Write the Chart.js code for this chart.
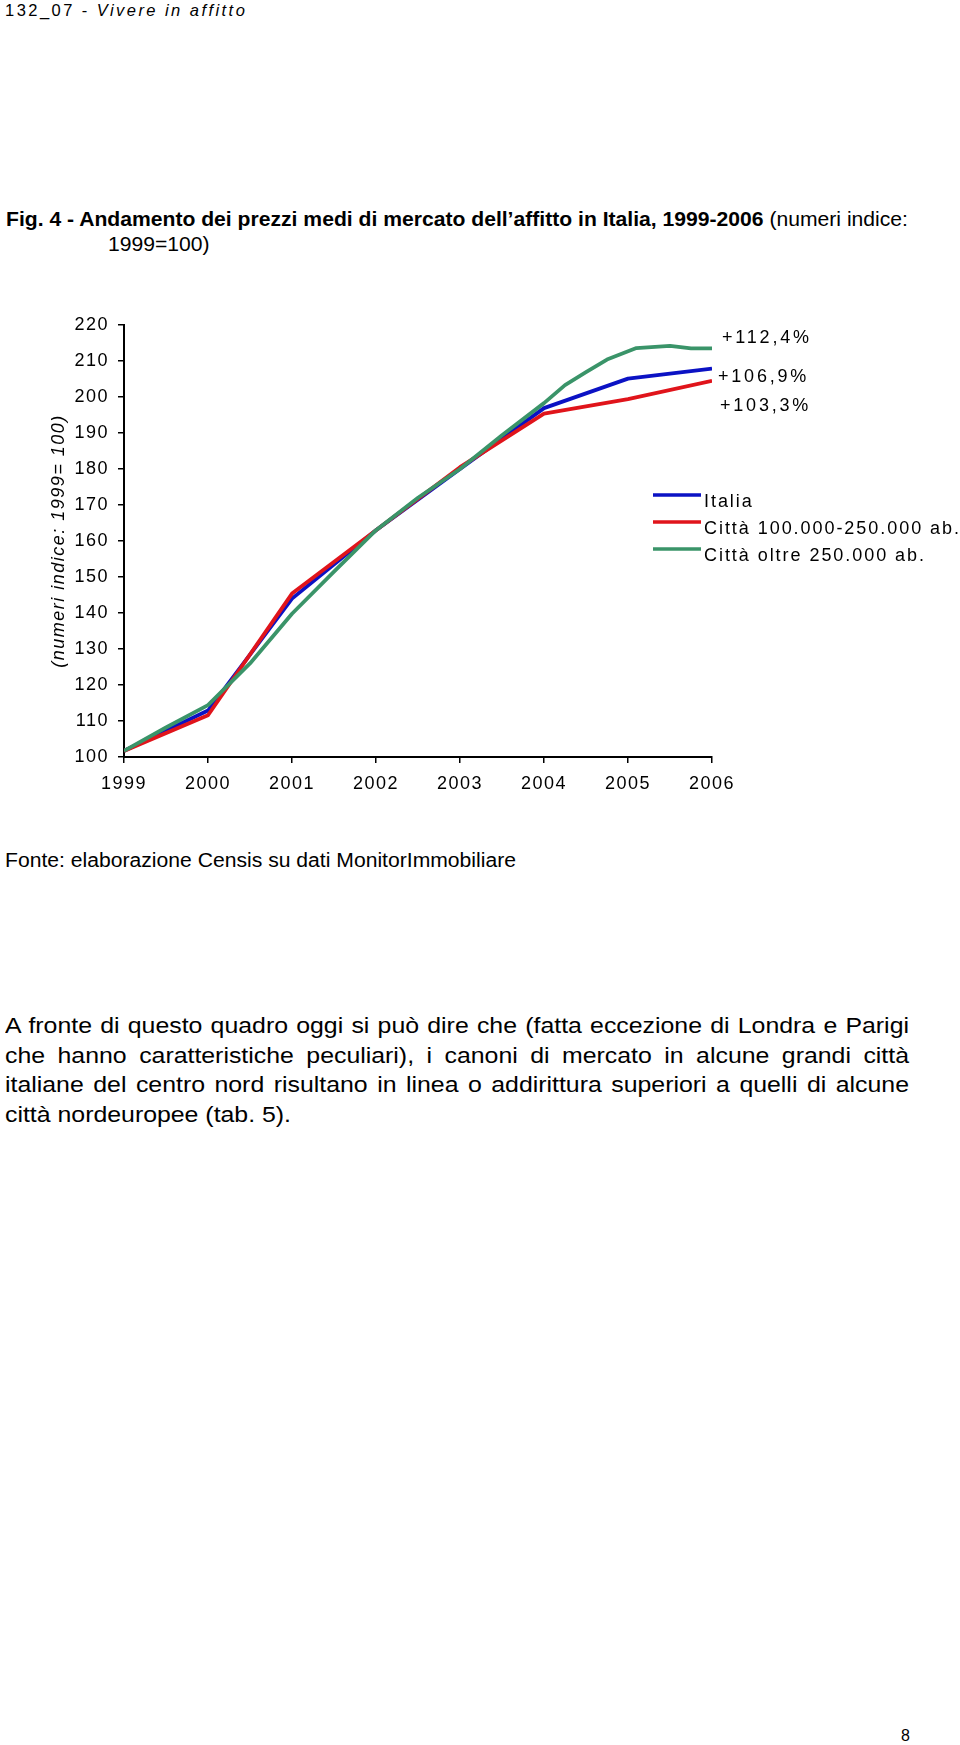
<!DOCTYPE html>
<html>
<head>
<meta charset="utf-8">
<script src="https://cdn.jsdelivr.net/npm/chart.js@4.4.1/dist/chart.umd.min.js"></script>
<style>
  html, body { margin: 0; padding: 0; background: #fff; }
  body { width: 960px; height: 1745px; position: relative; overflow: hidden; color: #000; }
  .abs { position: absolute; white-space: nowrap; transform-origin: 0 0; }
  .fit { display: inline-block; }
  #hdr { left: 5px; top: 0px; font: 16.5px/20px "Liberation Sans", Arial, sans-serif; letter-spacing: 2.45px; }
  .narrow { font-family: "Liberation Sans", Arial, sans-serif; }
  #t1 { left: 6px; top: 207px; font-size: 21px; line-height: 24.5px; }
  #t2 { left: 108px; top: 231.5px; font-size: 21px; line-height: 24.5px; }
  #fonte { left: 5px; top: 848px; font-size: 20px; line-height: 24px; }
  #para { left: 5px; top: 1011px; font-size: 22px; line-height: 29.7px; white-space: normal; }
  #para .ln { text-align: justify; text-align-last: justify; white-space: nowrap; }
  #para .ln.last { text-align-last: left; }
  #pnum { left: 901px; top: 1727px; font: 16px/18px "Liberation Sans", Arial, sans-serif; }
  #c { position: absolute; left: 0; top: 280px; }
</style>
</head>
<body>
<div id="hdr" class="abs">132_07 - <i>Vivere in affitto</i></div>
<div id="t1" class="abs narrow fit"><b>Fig. 4 - Andamento dei prezzi medi di mercato dell’affitto in Italia, 1999-2006</b> (numeri indice:</div>
<div id="t2" class="abs narrow fit">1999=100)</div>
<canvas id="c" width="960" height="560"></canvas>
<div id="fonte" class="abs narrow fit">Fonte: elaborazione Censis su dati MonitorImmobiliare</div>
<div id="para" class="abs narrow">
  <div class="ln">A fronte di questo quadro oggi si può dire che (fatta eccezione di Londra e Parigi</div>
  <div class="ln">che hanno caratteristiche peculiari), i canoni di mercato in alcune grandi città</div>
  <div class="ln">italiane del centro nord risultano in linea o addirittura superiori a quelli di alcune</div>
  <div class="ln last"><span id="lastspan">città nordeuropee (tab. 5).</span></div>
</div>
<div id="pnum" class="abs">8</div>
<script>
// ---- data ----
const seriesNames = ["Italia", "Città 100.000-250.000 ab.", "Città oltre 250.000 ab."];
const yearsAnnual = [1999, 2000, 2001, 2002, 2003, 2004, 2005, 2006];
const italia = [101.7, 112.9, 144.0, 163.0, 180.0, 196.9, 205.1, 207.9];
const citta100_250 = [101.7, 111.6, 145.4, 163.0, 180.5, 195.4, 199.4, 204.5];
const yearsGreen = [1999, 1999.5, 2000, 2000.5, 2001, 2001.5, 2002, 2002.5, 2003, 2003.5, 2004, 2004.25, 2004.5, 2004.75, 2005.1, 2005.5, 2005.75, 2006];
const cittaOltre250 = [101.7, 108.2, 114.4, 126.0, 139.8, 151.5, 163.0, 172.0, 180.0, 189.4, 198.3, 203.3, 206.9, 210.4, 213.6, 214.2, 213.5, 213.5];
const endLabels = ["+112,4%", "+106,9%", "+103,3%"];
const yTickMin = 100, yTickMax = 220, yTickStep = 10;
const yTitle = "(numeri indice: 1999= 100)";

// ---- condensed text fitting (layout only) ----
function fitTo(el, target) {
  const w = el.getBoundingClientRect().width;
  const s = target / w;
  el.style.transform = "scaleX(" + s + ")";
  return s;
}
const sTitle = fitTo(document.getElementById("t1"), 902);
document.getElementById("t2").style.transform = "scaleX(" + sTitle + ")";
fitTo(document.getElementById("fonte"), 511);
(function () {
  const para = document.getElementById("para");
  const span = document.getElementById("lastspan");
  const s = 286 / span.getBoundingClientRect().width;
  para.style.width = (904 / s) + "px";
  para.style.transform = "scaleX(" + s + ")";
})();

const toPts = (xs, ys) => xs.map((x, i) => ({ x: x, y: ys[i] }));
const colors = { blue: "#0b12c4", red: "#e0141b", green: "#3a9469" };
const FONT = "'Liberation Sans', Arial, sans-serif";

const decor = {
  id: "decor",
  beforeDraw(chart) { chart.ctx.letterSpacing = "1.5px"; },
  afterDraw(chart) {
    const ctx = chart.ctx;
    const xs = chart.scales.x, ys = chart.scales.y;
    ctx.save();
    ctx.fillStyle = "#000";
    ctx.font = "18px " + FONT;
    ctx.textBaseline = "middle";
    ctx.textAlign = "left";
    ctx.letterSpacing = "2.8px";
    const lblSpec = [
      { text: endLabels[0], v: 216.3, dx: 10 },
      { text: endLabels[1], v: 205.6, dx: 6 },
      { text: endLabels[2], v: 197.4, dx: 8 }
    ];
    const xEnd = xs.getPixelForValue(2006);
    lblSpec.forEach(s => ctx.fillText(s.text, xEnd + s.dx, ys.getPixelForValue(s.v)));
    ctx.letterSpacing = "1.95px";
    const legendItems = [
      { name: seriesNames[0], color: colors.blue },
      { name: seriesNames[1], color: colors.red },
      { name: seriesNames[2], color: colors.green }
    ];
    const lx0 = 653, lx1 = 701, ly0 = 215, lstep = 27;
    legendItems.forEach((it, i) => {
      const y = ly0 + i * lstep;
      ctx.strokeStyle = it.color;
      ctx.lineWidth = 3.5;
      ctx.beginPath(); ctx.moveTo(lx0, y); ctx.lineTo(lx1, y); ctx.stroke();
      ctx.fillText(it.name, lx1 + 3, y + 7);
    });
    ctx.restore();
  }
};

new Chart(document.getElementById("c"), {
  type: "line",
  data: {
    datasets: [
      { label: seriesNames[2], data: toPts(yearsGreen, cittaOltre250), borderColor: colors.green, order: 0 },
      { label: seriesNames[1], data: toPts(yearsAnnual, citta100_250), borderColor: colors.red, order: 1 },
      { label: seriesNames[0], data: toPts(yearsAnnual, italia), borderColor: colors.blue, order: 2 }
    ]
  },
  options: {
    responsive: false,
    devicePixelRatio: 1,
    animation: false,
    elements: {
      line: { borderWidth: 3.8, tension: 0, fill: false, borderJoinStyle: "round", borderCapStyle: "butt" },
      point: { radius: 0, hoverRadius: 0 }
    },
    layout: { padding: { left: 0, right: 248, top: 45, bottom: 23 } },
    plugins: { legend: { display: false }, tooltip: { enabled: false }, title: { display: false } },
    scales: {
      x: {
        type: "linear", min: 1999, max: 2006,
        afterFit(s) { s.height = 60; },
        border: { display: true, color: "#000", width: 2 },
        grid: { display: true, drawOnChartArea: false, drawTicks: true, tickLength: 6, color: "#000", lineWidth: 1.5 },
        ticks: { stepSize: 1, color: "#000", padding: 10, maxRotation: 0, autoSkip: false, font: { family: FONT, size: 18 }, callback: v => String(v) }
      },
      y: {
        min: yTickMin, max: yTickMax,
        afterFit(s) { s.width = 124; },
        border: { display: true, color: "#000", width: 2 },
        grid: { display: true, drawOnChartArea: false, drawTicks: true, tickLength: 6, color: "#000", lineWidth: 1.5 },
        ticks: { stepSize: yTickStep, color: "#000", padding: 9, font: { family: FONT, size: 18 } },
        title: { display: true, text: yTitle, color: "#000", padding: { top: 48, bottom: 0 }, font: { family: FONT, size: 18, style: "italic" } }
      }
    }
  },
  plugins: [decor]
});
</script>
</body>
</html>
